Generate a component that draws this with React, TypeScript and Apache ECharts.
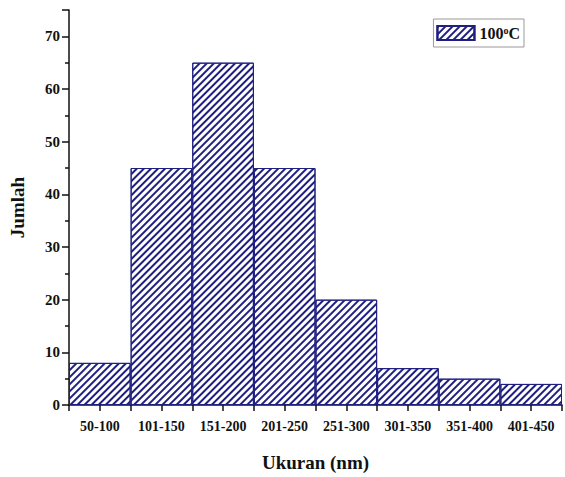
import React, { useEffect, useRef } from "react";
import * as echarts from "echarts";

const categories = ["50-100", "101-150", "151-200", "201-250", "251-300", "301-350", "351-400", "401-450"];
const counts = [8, 45, 65, 45, 20, 7, 5, 4];
const halfTicks = Array.from({ length: 16 }, () => "");
const seriesName = "100°C";

export default function App() {
  const ref = useRef<HTMLDivElement>(null);
  useEffect(() => {
    const chart = echarts.init(ref.current!, null, { renderer: "svg" });
    const navy = "#1f1f80";
    const font = "'Liberation Serif', 'Times New Roman', serif";
    chart.setOption({
      animation: false,
      backgroundColor: "#fff",
      grid: { left: 68, right: 3, top: 10, bottom: 62 },
      legend: {
        show: true,
        right: 41,
        top: 19,
        orient: "vertical",
        borderColor: "#999",
        borderWidth: 1,
        padding: [6, 4, 6, 3],
        itemWidth: 37,
        itemHeight: 14,
        itemGap: 4,
        icon: "rect",
        formatter: () => "100{sup|o}C",
        textStyle: {
          fontFamily: font,
          fontWeight: "bold",
          fontSize: 16,
          color: "#111",
          rich: {
            sup: { fontFamily: font, fontWeight: "bold", fontSize: 10, verticalAlign: "top", padding: [0, 0, 6, 0], color: "#111" },
          },
        },
        data: [seriesName],
      },
      xAxis: [
        {
          type: "category",
          data: categories,
          boundaryGap: true,
          name: "Ukuran (nm)",
          nameLocation: "middle",
          nameGap: 48,
          nameTextStyle: { fontFamily: font, fontWeight: "bold", fontSize: 19, color: "#111" },
          axisLine: { lineStyle: { color: "#111", width: 1.5 } },
          axisTick: { show: false },
          axisLabel: { fontFamily: font, fontWeight: "bold", fontSize: 14, color: "#111", margin: 14, interval: 0 },
        },
        {
          type: "category",
          data: halfTicks,
          boundaryGap: true,
          position: "bottom",
          axisLine: { show: false },
          axisTick: { show: true, length: 6, interval: 0, lineStyle: { color: "#111", width: 1.5 } },
          axisLabel: { show: false },
        },
      ],
      yAxis: {
        type: "value",
        min: 0,
        max: 75,
        interval: 10,
        name: "Jumlah",
        nameLocation: "middle",
        nameGap: 42,
        nameTextStyle: { fontFamily: font, fontWeight: "bold", fontSize: 19, color: "#111" },
        axisLine: { show: true, lineStyle: { color: "#111", width: 1.5 } },
        axisTick: { show: true, length: 7, lineStyle: { color: "#111", width: 1.5 } },
        minorTick: { show: true, splitNumber: 2, length: 4, lineStyle: { color: "#111", width: 1.5 } },
        splitLine: { show: false },
        axisLabel: {
          fontFamily: font,
          fontWeight: "bold",
          fontSize: 15,
          color: "#111",
          margin: 9,
          formatter: (v: number) => (v % 10 === 0 ? String(v) : ""),
        },
      },
      series: [
        {
          name: seriesName,
          type: "bar",
          data: counts,
          barCategoryGap: 0,
          itemStyle: {
            color: "#ffffff",
            borderColor: navy,
            borderWidth: 1,
            decal: {
              symbol: "rect",
              symbolSize: 1,
              dashArrayX: [1, 0],
              dashArrayY: [1.5, 2.5],
              rotation: -Math.PI / 4,
              color: navy,
              backgroundColor: "#ffffff",
            },
          },
        },
      ],
    });
    return () => chart.dispose();
  }, []);
  return <div ref={ref} style={{ position: "absolute", left: 0, top: 0, width: 565, height: 477 }} />;
}
